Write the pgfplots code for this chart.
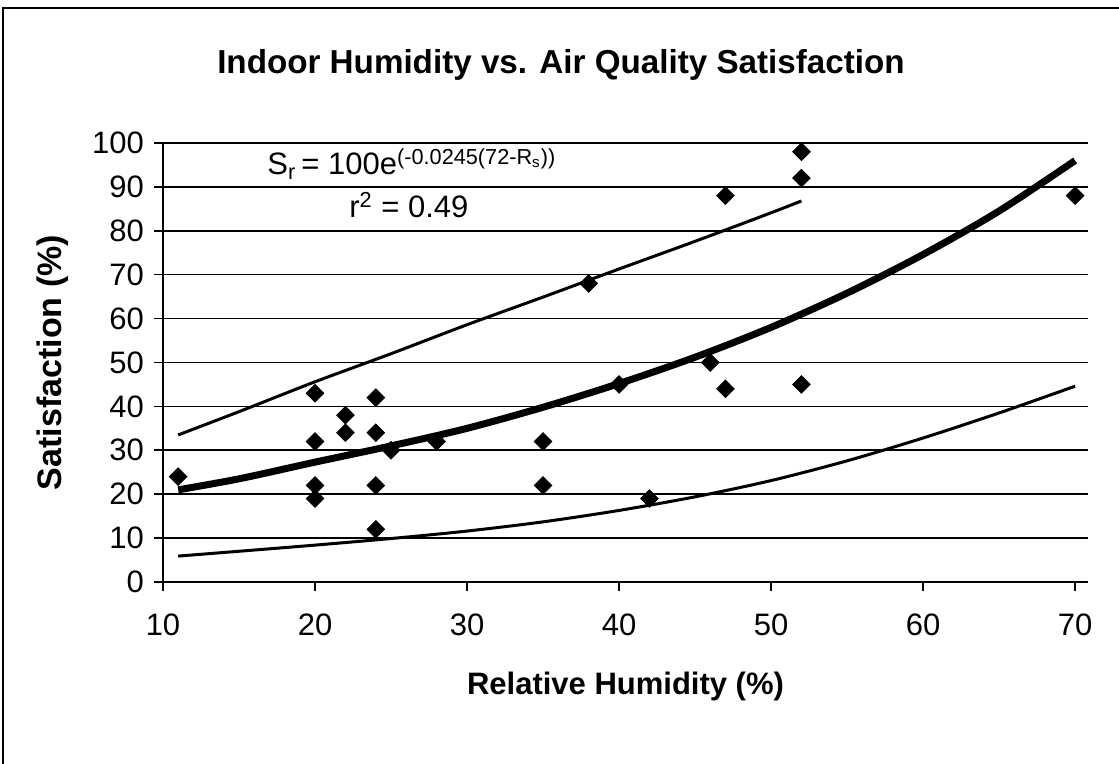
\documentclass[border=0pt]{standalone}
\usepackage{fontspec}
\setmainfont{Liberation Sans}
\usepackage{pgfplots}
\pgfplotsset{compat=1.18}
\begin{document}
\begin{tikzpicture}
\useasboundingbox (0,0) rectangle (559.5pt,382pt);
\draw[line width=1pt] (1.5pt,0pt) -- (1.5pt,378pt) -- (559.5pt,378pt);
\begin{axis}[
  at={(81.5pt,91pt)}, anchor=south west,
  scale only axis, width=462.5pt, height=219.5pt,
  xmin=10, xmax=70.85, ymin=0, ymax=100,
  xtick={10,20,...,70}, ytick={0,10,...,100},
  axis x line*=bottom, axis y line*=left,
  axis line style={line width=0.9pt, -},
  ymajorgrids, grid style={black, line width=0.8pt},
  tick style={black, line width=0.8pt},
  tick align=outside, major tick length=4.5pt,
  /pgf/number format/assume math mode=true,
  ticklabel style={font=\fontsize{15.5pt}{17pt}\selectfont},
  xticklabel style={yshift=-8pt},
  yticklabel style={xshift=-1.5pt},
  xlabel={Relative Humidity (\%)},
  ylabel={Satisfaction (\%)},
  label style={font=\bfseries\fontsize{15.5pt}{17pt}\selectfont},
  xlabel style={yshift=-11pt},
  ylabel style={yshift=5pt, font=\bfseries\fontsize{17pt}{19pt}\selectfont},
  clip=false,
]
% data points
\addplot[only marks, mark=square*, mark size=3.1pt, mark options={rotate=45, fill=black, draw=black}] coordinates {
(11,24) (20,43) (20,32) (20,22) (20,19) (22,38) (22,34) (24,42) (24,34) (24,22) (24,12)
(25,30) (28,32) (35,32) (35,22) (38,68) (40,45) (42,19) (46,50) (47,88) (47,44)
(52,98) (52,92) (52,45) (70,88)
};
% fitted curve
\addplot[black, line width=3.5pt, smooth, no marks] coordinates {
(11,21) (15,23.5) (20,27.3) (25,31) (30,35) (35,39.8) (40,45.2) (45,51.2) (50,58) (55,65.8) (60,74.6) (65,84.5) (70,96)
};
% upper bound
\addplot[black, line width=1.5pt, smooth, no marks] coordinates {
(11,33.5) (15,38.8) (20,45.6) (25,52) (30,58.6) (35,64.9) (40,71.3) (45,77.6) (50,84.1) (52,86.8)
};
% lower bound
\addplot[black, line width=1.5pt, smooth, no marks] coordinates {
(11,5.9) (15,7) (20,8.4) (25,9.9) (30,11.6) (35,13.7) (40,16.3) (45,19.4) (50,23.1) (55,27.6) (60,32.8) (65,38.5) (70,44.6)
};
\end{axis}
\node[anchor=base west, inner sep=0pt, font=\fontsize{15.5pt}{17pt}\selectfont] at (133.5pt,294.5pt)
  {S\textsubscript{r}\,= 100e\textsuperscript{(-0.0245(72-R\textsubscript{s}))}};
\node[anchor=base west, inner sep=0pt, font=\fontsize{15.5pt}{17pt}\selectfont] at (174.5pt,273pt)
  {r\textsuperscript{2} = 0.49};
\node[font=\bfseries\fontsize{16.6pt}{19pt}\selectfont] at (280.5pt,349.5pt)
  {Indoor Humidity vs. Air Quality Satisfaction};
\end{tikzpicture}
\end{document}
